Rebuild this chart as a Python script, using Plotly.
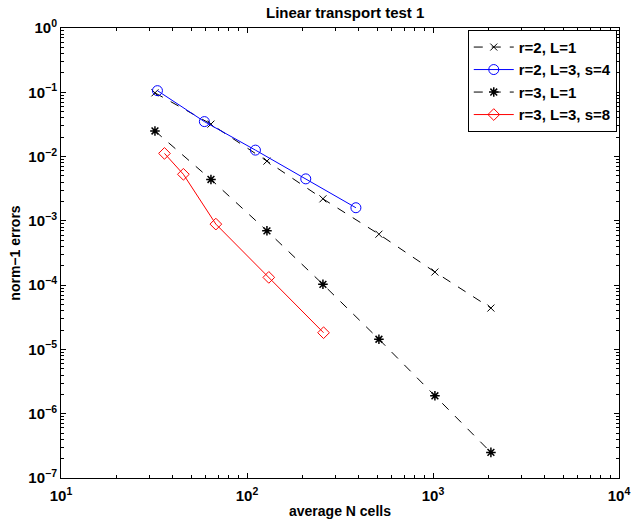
import plotly.graph_objects as go

# r=2, L=1
x_r2L1 = [32, 64, 128, 256, 512, 1024, 2048]
y_r2L1 = [0.098, 0.032, 0.0085, 0.0022, 0.00062, 0.00016, 4.4e-5]
# r=2, L=3, s=4
x_r2L3 = [33, 59, 111, 207, 385]
y_r2L3 = [0.106, 0.035, 0.0126, 0.0045, 0.0016]
# r=3, L=1
x_r3L1 = [32, 64, 128, 256, 512, 1024, 2048]
y_r3L1 = [0.025, 0.0044, 0.0007, 1.03e-4, 1.44e-5, 1.9e-6, 2.5e-7]
# r=3, L=3, s=8
x_r3L3 = [36, 45.5, 68, 131, 258]
y_r3L3 = [0.0112, 0.0053, 0.00089, 1.32e-4, 1.82e-5]

names = ["r=2, L=1", "r=2, L=3, s=4", "r=3, L=1", "r=3, L=3, s=8"]

xtickvals = [10, 100, 1000, 10000]
xticktext = ["10<sup>1</sup>", "10<sup>2</sup>", "10<sup>3</sup>", "10<sup>4</sup>"]
ytickvals = [1e0, 1e-1, 1e-2, 1e-3, 1e-4, 1e-5, 1e-6, 1e-7]
yticktext = ["10<sup>0</sup>", "10<sup>−1</sup>", "10<sup>−2</sup>", "10<sup>−3</sup>",
             "10<sup>−4</sup>", "10<sup>−5</sup>", "10<sup>−6</sup>", "10<sup>−7</sup>"]

x_minor = [m * 10 ** e for e in range(1, 4) for m in range(2, 10)]
y_minor = [m * 10.0 ** e for e in range(-7, 0) for m in range(2, 10)]

FONT = "Liberation Sans, Arial, sans-serif"

fig = go.Figure()
fig.add_trace(go.Scatter(x=x_r2L1, y=y_r2L1, name=names[0], mode="lines+markers",
                         line=dict(color="black", width=1, dash="dash"),
                         marker=dict(symbol="x-thin-open", size=7, color="black",
                                     line=dict(color="black", width=1))))
fig.add_trace(go.Scatter(x=x_r2L3, y=y_r2L3, name=names[1], mode="lines+markers",
                         line=dict(color="blue", width=1),
                         marker=dict(symbol="circle-open", size=10, color="blue",
                                     line=dict(color="blue", width=1))))
fig.add_trace(go.Scatter(x=x_r3L1, y=y_r3L1, name=names[2], mode="lines+markers",
                         line=dict(color="black", width=1, dash="dash"),
                         marker=dict(symbol="asterisk-open", size=8, color="black",
                                     line=dict(color="black", width=1.5))))
fig.add_trace(go.Scatter(x=x_r3L3, y=y_r3L3, name=names[3], mode="lines+markers",
                         line=dict(color="red", width=1),
                         marker=dict(symbol="diamond-open", size=9, color="red",
                                     line=dict(color="red", width=1))))

axis_common = dict(type="log", showgrid=False, zeroline=False, showline=True,
                   linecolor="black", linewidth=1, mirror="ticks", ticks="inside",
                   ticklen=5, tickcolor="black", ticklabeloverflow="allow",
                   tickfont=dict(family=FONT, size=15, color="black"))

fig.update_xaxes(range=[1, 4], tickmode="array", tickvals=xtickvals,
                 ticktext=["<b>" + t + "</b>" for t in xticktext],
                 ticklabelstandoff=4,
                 minor=dict(tickmode="array", tickvals=x_minor, ticks="inside",
                            ticklen=3, tickcolor="black", showgrid=False),
                 title=dict(text="<b>average N cells</b>", font=dict(family=FONT, size=14, color="black"),
                            standoff=3),
                 **axis_common)
fig.update_yaxes(range=[-7, 0], tickmode="array", tickvals=ytickvals,
                 ticktext=["<b>" + t + "</b>" for t in yticktext],
                 minor=dict(tickmode="array", tickvals=y_minor, ticks="inside",
                            ticklen=3, tickcolor="black", showgrid=False),
                 title=dict(text="<b>norm−1 errors</b>", font=dict(family=FONT, size=14, color="black"),
                            standoff=4),
                 **axis_common)

fig.update_layout(
    width=638, height=525,
    margin=dict(l=61, r=8, t=28, b=47),
    paper_bgcolor="white", plot_bgcolor="white",
    title=dict(text="<b>Linear transport test 1</b>", x=0.541, xanchor="center",
               y=0.975, yanchor="middle", font=dict(family=FONT, size=15, color="black")),
    legend=dict(x=0.996, y=0.996, xanchor="right", yanchor="top",
                bgcolor="white", bordercolor="black", borderwidth=1,
                font=dict(family=FONT, size=15, color="black"),
                tracegroupgap=0, itemwidth=40),
    showlegend=True,
)
for tr in fig.data:
    tr.name = "<b>" + tr.name + "</b>"

fig.write_html("out.html")
